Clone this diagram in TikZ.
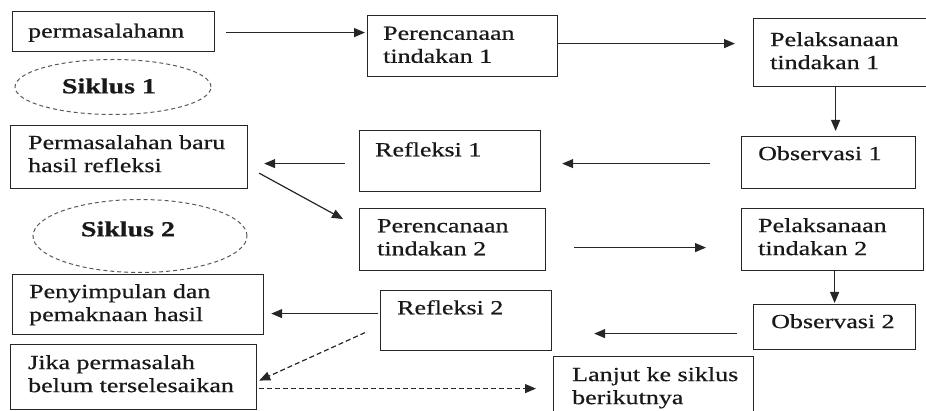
\documentclass[tikz,border=0pt]{standalone}
\usepackage{fontspec}
\setmainfont{Liberation Serif}[FakeStretch=1.3, FakeBold=0.6]
\usetikzlibrary{arrows.meta,shapes.geometric,calc}
\tikzset{
  box/.style={draw=black!85, line width=1.2pt, rectangle, inner sep=0pt, anchor=north west},
  txt/.style={font=\fontsize{20}{23}\selectfont, align=left, inner sep=0pt, anchor=north west, text=black!90},
  cyc/.style={draw=black!65, dashed, dash pattern=on 4pt off 3pt, line width=1pt, ellipse, inner sep=0pt},
  cyctxt/.style={font=\fontsize{21.5}{23}\selectfont\bfseries, inner sep=0pt, text=black!90},
  arr/.style={draw=black!85, line width=1.2pt, -{Triangle[length=11pt,width=9pt]}},
  darr/.style={arr, dashed, dash pattern=on 5pt off 3pt}
}
\begin{document}
\begin{tikzpicture}[x=1pt,y=-1pt]
\useasboundingbox (0,0) rectangle (926,411);
% boxes
\node[box, minimum width=202pt, minimum height=40pt] (perm) at (12,11) {};
\node[box, minimum width=190pt, minimum height=61pt] (plan1) at (367,15) {};
\node[box, minimum width=180pt, minimum height=68pt] (act1) at (753,18) {};
\node[box, minimum width=174pt, minimum height=52pt] (obs1) at (741,136) {};
\node[box, minimum width=181pt, minimum height=61pt] (ref1) at (359,130) {};
\node[box, minimum width=237pt, minimum height=63pt] (newp) at (10,125) {};
\node[box, minimum width=186pt, minimum height=62pt] (plan2) at (359,208) {};
\node[box, minimum width=182pt, minimum height=62pt] (act2) at (741,208) {};
\node[box, minimum width=162pt, minimum height=45pt] (obs2) at (753,304) {};
\node[box, minimum width=171pt, minimum height=60pt] (ref2) at (380,290) {};
\node[box, minimum width=251pt, minimum height=60pt] (concl) at (12,274) {};
\node[box, minimum width=246pt, minimum height=65pt] (jika) at (10,344) {};
\node[box, minimum width=200pt, minimum height=70pt] (lanjut) at (553,356) {};
% texts
\node[txt] (perm-t) at ([shift={(16,12.5)}]perm.north west) {permasalahann};
\node[txt] (plan1-t) at ([shift={(16,11.5)}]plan1.north west) {Perencanaan\\tindakan 1};
\node[txt] (act1-t) at ([shift={(17,14)}]act1.north west) {Pelaksanaan\\tindakan 1};
\node[txt] (obs1-t) at ([shift={(17,10)}]obs1.north west) {Observasi 1};
\node[txt] (ref1-t) at ([shift={(16,12)}]ref1.north west) {Refleksi 1};
\node[txt] (newp-t) at ([shift={(18,10)}]newp.north west) {Permasalahan baru\\hasil refleksi};
\node[txt] (plan2-t) at ([shift={(18,11)}]plan2.north west) {Perencanaan\\tindakan 2};
\node[txt] (act2-t) at ([shift={(17,10)}]act2.north west) {Pelaksanaan\\tindakan 2};
\node[txt] (obs2-t) at ([shift={(18,10)}]obs2.north west) {Observasi 2};
\node[txt] (ref2-t) at ([shift={(17,10)}]ref2.north west) {Refleksi 2};
\node[txt] (concl-t) at ([shift={(17,10)}]concl.north west) {Penyimpulan dan\\pemaknaan hasil};
\node[txt] (jika-t) at ([shift={(18,11)}]jika.north west) {Jika permasalah\\belum terselesaikan};
\node[txt] (lanjut-t) at ([shift={(19,11)}]lanjut.north west) {Lanjut ke siklus\\berikutnya};
% cycles
\node[cyc, minimum width=196pt, minimum height=55pt] (sik1) at (113,87) {};
\node[cyctxt] (sik1-t) at (109,86) {Siklus 1};
\node[cyc, minimum width=214pt, minimum height=73pt] (sik2) at (140,236) {};
\node[cyctxt] (sik2-t) at (128,229) {Siklus 2};
% connectors
\draw[arr] ([shift={(11,1)}]perm.east) -- ([shift={(-2,1)}]perm.east -| plan1.west);
\draw[arr] ([shift={(0,-2.5)}]plan1.east) -- ([shift={(-18,-2.5)}]plan1.east -| act1.west);
\draw[arr] ([shift={(-8,0)}]act1.south) -- ([shift={(-8,-5)}]act1.south |- obs1.north);
\draw[arr] ([shift={(-31,1)}]obs1.west) -- ([shift={(21,1)}]obs1.west -| ref1.east);
\draw[arr] ([shift={(-14,2.5)}]ref1.west) -- ([shift={(16,2.5)}]ref1.west -| newp.east);
\draw[arr] ([shift={(11,-16)}]newp.south east) -- ([shift={(-16,11)}]plan2.north west);
\draw[arr] ([shift={(28,8)}]plan2.east) -- ([shift={(-35,8)}]plan2.east -| act2.west);
\draw[arr] (act2.south -| obs2.north) -- ([shift={(0,-1)}]obs2.north);
\draw[arr] ([shift={(-16,6.5)}]obs2.west) -- ([shift={(42,6.5)}]obs2.west -| ref2.east);
\draw[arr] ([shift={(-2,-7)}]ref2.west) -- ([shift={(7,-7)}]ref2.west -| concl.east);
\draw[darr] ([shift={(-15,12)}]ref2.west) -- ([shift={(2,3.5)}]jika.east);
\draw[darr] ([shift={(2,11.5)}]jika.east) -- ([shift={(-17,11.5)}]jika.east -| lanjut.west);
\end{tikzpicture}
\end{document}
